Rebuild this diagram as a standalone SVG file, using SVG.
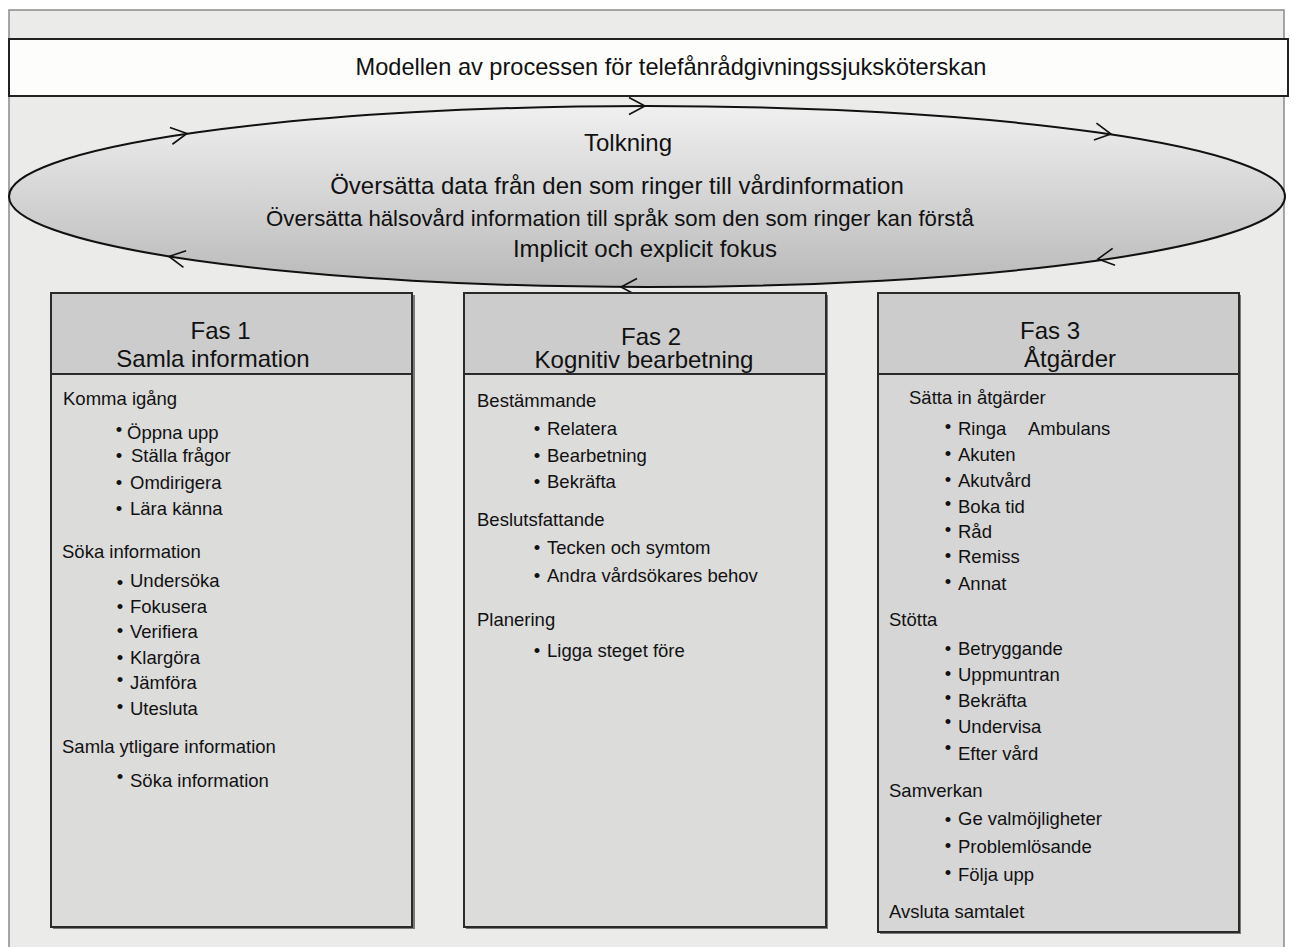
<svg xmlns="http://www.w3.org/2000/svg" width="1292" height="947" viewBox="0 0 1292 947">
<defs>
<linearGradient id="ellGrad" x1="0" y1="0" x2="0" y2="1">
<stop offset="0" stop-color="#f0f0f0"/>
<stop offset="1" stop-color="#b9b9b9"/>
</linearGradient>
<path id="chev" d="M-16,-8.5 L0,0 L-16,8.5"/>
</defs>
<style>
text{font-family:"Liberation Sans",Arial,sans-serif;fill:#111}
.t24{font-size:24px}
.hd{font-size:24px;text-anchor:middle}
.b{font-size:18.5px}
.bl{font-size:18.5px;text-anchor:middle}
.box{stroke:#2a2a2a;stroke-width:2}
.shadow{fill:#7a7a7a}
.chev{fill:none;stroke:#111;stroke-width:1.6}
</style>
<rect x="0" y="0" width="1292" height="947" fill="#ffffff"/>
<g id="frame">
<rect x="9" y="10" width="1275" height="960" fill="#ebebea" stroke="#8a8a8a" stroke-width="1.5"/>
</g>
<g id="title">
<rect x="9" y="39" width="1279" height="57" fill="#fdfdfc" stroke="#222" stroke-width="2"/>
<text x="671" y="75" text-anchor="middle" style="font-size:23.6px">Modellen av processen för telefånrådgivningssjuksköterskan</text>
</g>
<g id="tolkning">
<ellipse cx="647" cy="196.5" rx="638" ry="90.5" fill="url(#ellGrad)" stroke="#111" stroke-width="2"/>
<text class="t24" x="628" y="151" text-anchor="middle">Tolkning</text>
<text class="t24" x="617" y="194" text-anchor="middle">Översätta data från den som ringer till vårdinformation</text>
<text x="620" y="226" text-anchor="middle" style="font-size:22.2px">Översätta hälsovård information till språk som den som ringer kan förstå</text>
<text class="t24" x="645" y="257" text-anchor="middle">Implicit och explicit fokus</text>
</g>
<g id="connectors" class="chev">
<use href="#chev" transform="translate(645,106)"/>
<use href="#chev" transform="translate(187,133.5) rotate(-8.4)"/>
<use href="#chev" transform="translate(1111,134) rotate(8.5)"/>
<use href="#chev" transform="translate(1098,259) rotate(171.9)"/>
<use href="#chev" transform="translate(621,287) rotate(180)"/>
<use href="#chev" transform="translate(169,256.5) rotate(189.1)"/>
</g>
<g id="fas1">
<rect class="shadow" x="53" y="295" width="362" height="634"/>
<rect class="box" x="51" y="293" width="361" height="634" fill="#dcdcdb"/>
<rect class="box" x="51" y="293" width="361" height="81" fill="#cccccc"/>
<text class="hd" x="220.5" y="339">Fas 1</text>
<text class="hd" x="213" y="367">Samla information</text>
<text class="b" x="63" y="405">Komma igång</text>
<text class="bl" x="119" y="436">•</text><text class="b" x="127" y="439">Öppna upp</text>
<text class="bl" x="119" y="462">•</text><text class="b" x="131" y="462">Ställa frågor</text>
<text class="bl" x="119" y="489">•</text><text class="b" x="130" y="489">Omdirigera</text>
<text class="bl" x="119" y="515">•</text><text class="b" x="130" y="515">Lära känna</text>
<text class="b" x="62" y="558">Söka information</text>
<text class="bl" x="120" y="589">•</text><text class="b" x="130" y="587">Undersöka</text>
<text class="bl" x="120" y="613">•</text><text class="b" x="130" y="613">Fokusera</text>
<text class="bl" x="120" y="637">•</text><text class="b" x="130" y="638">Verifiera</text>
<text class="bl" x="120" y="664">•</text><text class="b" x="130" y="664">Klargöra</text>
<text class="bl" x="120" y="686">•</text><text class="b" x="130" y="689">Jämföra</text>
<text class="bl" x="120" y="713">•</text><text class="b" x="130" y="715">Utesluta</text>
<text class="b" x="62" y="753">Samla ytligare information</text>
<text class="bl" x="120" y="783">•</text><text class="b" x="130" y="787">Söka information</text>
</g>
<g id="fas2">
<rect class="shadow" x="466" y="295" width="362" height="634"/>
<rect class="box" x="464" y="293" width="362" height="634" fill="#dcdcdb"/>
<rect class="box" x="464" y="293" width="362" height="81" fill="#cccccc"/>
<text class="hd" x="651" y="345">Fas 2</text>
<text class="hd" x="644" y="368">Kognitiv bearbetning</text>
<text class="b" x="477" y="407">Bestämmande</text>
<text class="bl" x="537" y="435">•</text><text class="b" x="547" y="435">Relatera</text>
<text class="bl" x="537" y="462">•</text><text class="b" x="547" y="462">Bearbetning</text>
<text class="bl" x="537" y="488">•</text><text class="b" x="547" y="488">Bekräfta</text>
<text class="b" x="477" y="526">Beslutsfattande</text>
<text class="bl" x="537" y="554">•</text><text class="b" x="547" y="554">Tecken och symtom</text>
<text class="bl" x="537" y="582">•</text><text class="b" x="547" y="582">Andra vårdsökares behov</text>
<text class="b" x="477" y="626">Planering</text>
<text class="bl" x="537" y="657">•</text><text class="b" x="547" y="657">Ligga steget före</text>
</g>
<g id="fas3">
<rect class="shadow" x="880" y="295" width="361" height="639"/>
<rect class="box" x="878" y="293" width="361" height="639" fill="#d6d6d6"/>
<rect class="box" x="878" y="293" width="361" height="81" fill="#cccccc"/>
<text class="hd" x="1050" y="339">Fas 3</text>
<text class="hd" x="1070" y="367">Åtgärder</text>
<text class="b" x="909" y="404">Sätta in åtgärder</text>
<text class="bl" x="948" y="433">•</text><text class="b" x="958" y="435">Ringa</text><text class="b" x="1028" y="435">Ambulans</text>
<text class="bl" x="948" y="460">•</text><text class="b" x="958" y="461">Akuten</text>
<text class="bl" x="948" y="486">•</text><text class="b" x="958" y="487">Akutvård</text>
<text class="bl" x="948" y="510">•</text><text class="b" x="958" y="513">Boka tid</text>
<text class="bl" x="948" y="536">•</text><text class="b" x="958" y="538">Råd</text>
<text class="bl" x="948" y="562">•</text><text class="b" x="958" y="563">Remiss</text>
<text class="bl" x="948" y="588">•</text><text class="b" x="958" y="590">Annat</text>
<text class="b" x="889" y="626">Stötta</text>
<text class="bl" x="948" y="655">•</text><text class="b" x="958" y="655">Betryggande</text>
<text class="bl" x="948" y="680">•</text><text class="b" x="958" y="681">Uppmuntran</text>
<text class="bl" x="948" y="704">•</text><text class="b" x="958" y="707">Bekräfta</text>
<text class="bl" x="948" y="728">•</text><text class="b" x="958" y="733">Undervisa</text>
<text class="bl" x="948" y="754">•</text><text class="b" x="958" y="760">Efter vård</text>
<text class="b" x="889" y="797">Samverkan</text>
<text class="bl" x="948" y="826">•</text><text class="b" x="958" y="825">Ge valmöjligheter</text>
<text class="bl" x="948" y="852">•</text><text class="b" x="958" y="853">Problemlösande</text>
<text class="bl" x="948" y="879">•</text><text class="b" x="958" y="881">Följa upp</text>
<text class="b" x="889" y="918">Avsluta samtalet</text>
</g>
</svg>
